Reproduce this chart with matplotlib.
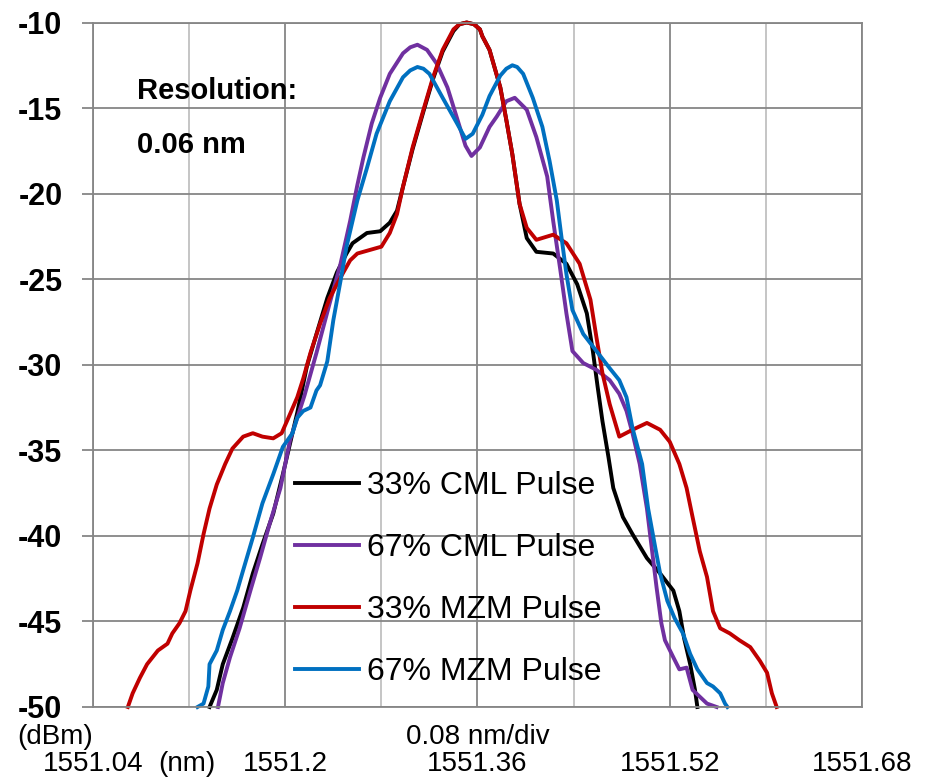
import matplotlib
matplotlib.use('Agg')
import matplotlib.pyplot as plt

plt.rcParams['font.family'] = ['Liberation Sans', 'DejaVu Sans']

# 33% CML Pulse (preto)
wl_cml33 = [1551.137, 1551.143, 1551.148, 1551.156, 1551.165, 1551.173, 1551.181, 1551.190,
            1551.198, 1551.206, 1551.210, 1551.218, 1551.226, 1551.235, 1551.243, 1551.251,
            1551.256, 1551.268, 1551.279, 1551.287, 1551.293, 1551.298, 1551.306, 1551.315,
            1551.323, 1551.331, 1551.340, 1551.345, 1551.351, 1551.357, 1551.362, 1551.364,
            1551.370, 1551.379, 1551.384, 1551.389, 1551.395, 1551.401, 1551.409, 1551.423,
            1551.434, 1551.443, 1551.451, 1551.456, 1551.460, 1551.464, 1551.469, 1551.473,
            1551.481, 1551.489, 1551.501, 1551.512, 1551.523, 1551.528, 1551.532, 1551.537,
            1551.541, 1551.543]
pw_cml33 = [-50.0, -49.0, -47.5, -46.0, -44.2, -42.2, -40.5, -38.7,
            -36.4, -34.0, -32.8, -30.1, -28.2, -26.1, -24.6, -23.5,
            -22.9, -22.3, -22.2, -21.7, -21.0, -19.6, -17.4, -15.2,
            -13.3, -11.7, -10.5, -10.1, -10.0, -10.1, -10.4, -10.8,
            -11.6, -13.8, -15.7, -17.7, -20.6, -22.6, -23.4, -23.5,
            -24.1, -25.3, -27.0, -29.2, -31.3, -33.3, -35.4, -37.2,
            -38.9, -39.9, -41.3, -42.2, -43.2, -44.4, -46.0, -47.5,
            -49.0, -50.0]

# 67% CML Pulse (roxo)
wl_cml67 = [1551.144, 1551.148, 1551.154, 1551.162, 1551.171, 1551.179, 1551.187, 1551.196,
            1551.204, 1551.216, 1551.226, 1551.237, 1551.246, 1551.254, 1551.260, 1551.265,
            1551.272, 1551.279, 1551.287, 1551.298, 1551.304, 1551.310, 1551.318, 1551.326,
            1551.335, 1551.343, 1551.350, 1551.355, 1551.362, 1551.370, 1551.376, 1551.384,
            1551.391, 1551.401, 1551.409, 1551.418, 1551.423, 1551.429, 1551.434, 1551.439,
            1551.448, 1551.459, 1551.470, 1551.478, 1551.484, 1551.489, 1551.495, 1551.501,
            1551.505, 1551.509, 1551.513, 1551.516, 1551.523, 1551.528, 1551.534, 1551.539,
            1551.545, 1551.551, 1551.559]
pw_cml67 = [-50.0, -48.6, -47.1, -45.4, -43.2, -41.3, -39.3, -37.2,
            -34.4, -31.8, -29.3, -26.4, -24.1, -21.6, -19.5, -17.9,
            -15.9, -14.4, -13.0, -11.8, -11.45, -11.3, -11.6, -12.4,
            -13.8, -15.6, -17.2, -17.8, -17.3, -16.1, -15.5, -14.6,
            -14.4, -15.1, -16.7, -19.0, -21.6, -24.5, -27.0, -29.2,
            -29.9, -30.3, -30.9, -31.7, -32.7, -34.0, -35.8, -38.4,
            -40.7, -43.0, -45.1, -46.1, -47.1, -47.8, -47.7, -49.0,
            -49.4, -49.8, -50.0]

# 33% MZM Pulse (vermelho)
wl_mzm33 = [1551.069, 1551.073, 1551.079, 1551.085, 1551.094, 1551.102, 1551.106, 1551.112,
            1551.117, 1551.121, 1551.127, 1551.132, 1551.137, 1551.143, 1551.150, 1551.156,
            1551.165, 1551.173, 1551.181, 1551.190, 1551.197, 1551.202, 1551.210, 1551.215,
            1551.221, 1551.229, 1551.237, 1551.246, 1551.254, 1551.260, 1551.270, 1551.280,
            1551.287, 1551.293, 1551.298, 1551.306, 1551.315, 1551.323, 1551.331, 1551.340,
            1551.345, 1551.351, 1551.357, 1551.362, 1551.364, 1551.370, 1551.379, 1551.384,
            1551.389, 1551.395, 1551.401, 1551.409, 1551.423, 1551.434, 1551.445, 1551.454,
            1551.459, 1551.464, 1551.470, 1551.478, 1551.489, 1551.501, 1551.512, 1551.520,
            1551.528, 1551.534, 1551.539, 1551.545, 1551.551, 1551.556, 1551.562, 1551.570,
            1551.578, 1551.587, 1551.595, 1551.601, 1551.605, 1551.609]
pw_mzm33 = [-50.0, -49.2, -48.3, -47.5, -46.7, -46.3, -45.7, -45.1,
            -44.4, -43.2, -41.6, -39.9, -38.4, -37.0, -35.8, -34.9,
            -34.2, -34.0, -34.2, -34.3, -34.0, -33.2, -31.9, -30.8,
            -29.3, -27.6, -26.1, -24.9, -23.9, -23.5, -23.3, -23.1,
            -22.3, -21.2, -19.6, -17.3, -15.1, -13.2, -11.6, -10.4,
            -10.1, -10.0, -10.1, -10.4, -10.8, -11.6, -13.8, -15.7,
            -17.7, -20.6, -22.0, -22.7, -22.4, -22.9, -24.1, -26.2,
            -28.4, -30.5, -32.3, -34.2, -33.8, -33.4, -33.8, -34.5,
            -35.8, -37.2, -38.9, -40.9, -42.4, -44.4, -45.4, -45.7,
            -46.1, -46.5, -47.3, -48.0, -49.2, -50.0]

# 67% MZM Pulse (azul)
wl_mzm67 = [1551.127, 1551.132, 1551.136, 1551.137, 1551.143, 1551.148, 1551.154, 1551.160,
            1551.165, 1551.173, 1551.181, 1551.190, 1551.198, 1551.206, 1551.210, 1551.215,
            1551.221, 1551.226, 1551.229, 1551.235, 1551.240, 1551.246, 1551.251, 1551.260,
            1551.268, 1551.276, 1551.287, 1551.298, 1551.304, 1551.310, 1551.315, 1551.320,
            1551.331, 1551.343, 1551.350, 1551.356, 1551.364, 1551.370, 1551.379, 1551.384,
            1551.389, 1551.393, 1551.398, 1551.406, 1551.414, 1551.420, 1551.426, 1551.430,
            1551.434, 1551.439, 1551.448, 1551.459, 1551.470, 1551.478, 1551.484, 1551.489,
            1551.497, 1551.502, 1551.508, 1551.512, 1551.518, 1551.524, 1551.531, 1551.537,
            1551.543, 1551.551, 1551.556, 1551.562, 1551.566, 1551.568]
pw_mzm67 = [-50.0, -49.8, -48.8, -47.5, -46.7, -45.5, -44.4, -43.2,
            -42.0, -40.1, -38.1, -36.4, -34.8, -34.0, -33.1, -32.7,
            -32.5, -31.5, -31.2, -29.8, -27.4, -25.1, -23.1, -20.4,
            -18.5, -16.5, -14.6, -13.2, -12.8, -12.6, -12.7, -13.0,
            -14.4, -15.9, -16.8, -16.5, -15.4, -14.3, -13.1, -12.7,
            -12.5, -12.6, -13.0, -14.4, -16.1, -18.1, -20.4, -22.6,
            -24.7, -26.8, -28.2, -29.2, -30.2, -30.9, -31.9, -33.7,
            -35.8, -38.4, -40.7, -42.2, -43.8, -44.8, -45.7, -46.9,
            -47.8, -48.6, -48.8, -49.2, -49.8, -50.0]

series = [
    (wl_cml33, pw_cml33, '#000000', '33% CML Pulse'),
    (wl_cml67, pw_cml67, '#7030A0', '67% CML Pulse'),
    (wl_mzm33, pw_mzm33, '#C00000', '33% MZM Pulse'),
    (wl_mzm67, pw_mzm67, '#0070C0', '67% MZM Pulse'),
]

x_major = [1551.04, 1551.2, 1551.36, 1551.52, 1551.68]
x_major_labels = ['1551.04', '1551.2', '1551.36', '1551.52', '1551.68']
x_minor = [1551.12, 1551.28, 1551.44, 1551.60]
y_ticks = [-50, -45, -40, -35, -30, -25, -20, -15, -10]

W, H = 927, 780
fig = plt.figure(figsize=(W / 100, H / 100), dpi=100)
ax = fig.add_axes([93 / W, 1 - 707 / H, (862 - 93) / W, (707 - 22.5) / H])

for x, y, c, lab in series:
    ax.plot(x, y, color=c, lw=2.8, label=lab, solid_joinstyle='round', clip_on=False)

ax.set_xlim(1551.04, 1551.68)
ax.set_ylim(-50, -10)

grid_dark = '#868686'
grid_light = '#c0c0c0'
ax.set_xticks(x_major)
ax.set_xticklabels(x_major_labels)
ax.set_xticks(x_minor, minor=True)
ax.set_yticks(y_ticks)
ax.set_yticklabels([str(v) for v in y_ticks])
ax.set_axisbelow(True)
ax.grid(which='major', color=grid_dark, lw=1.3)
ax.grid(which='minor', axis='x', color=grid_light, lw=1.3)

ax.tick_params(axis='x', which='both', length=0, pad=31.5, labelsize=20)
ax.tick_params(axis='y', length=8, width=1.3, color=grid_dark, pad=14, labelsize=22)
for t in ax.get_yticklabels():
    t.set_fontweight('bold')
for s in ax.spines.values():
    s.set_color(grid_dark)
    s.set_linewidth(1.3)

leg = ax.legend(loc='upper left', bbox_to_anchor=(295 / W, 1 - 471 / H),
                bbox_transform=fig.transFigure, frameon=False, fontsize=23,
                handlelength=2.0, handletextpad=0.25, labelspacing=1.0,
                borderpad=0, borderaxespad=0)

fig.text(137 / W, 1 - 91 / H, 'Resolution:', fontsize=21, fontweight='bold', va='center')
fig.text(137 / W, 1 - 145 / H, '0.06 nm', fontsize=21, fontweight='bold', va='center')
fig.text(55 / W, 1 - 737 / H, '(dBm)', fontsize=20, ha='center', va='center')
fig.text(478 / W, 1 - 737 / H, '0.08 nm/div', fontsize=20, ha='center', va='center')
fig.text(158 / W, 1 - 764 / H, '(nm)', fontsize=20, ha='left', va='center')

fig.savefig('out.png', dpi=100)
